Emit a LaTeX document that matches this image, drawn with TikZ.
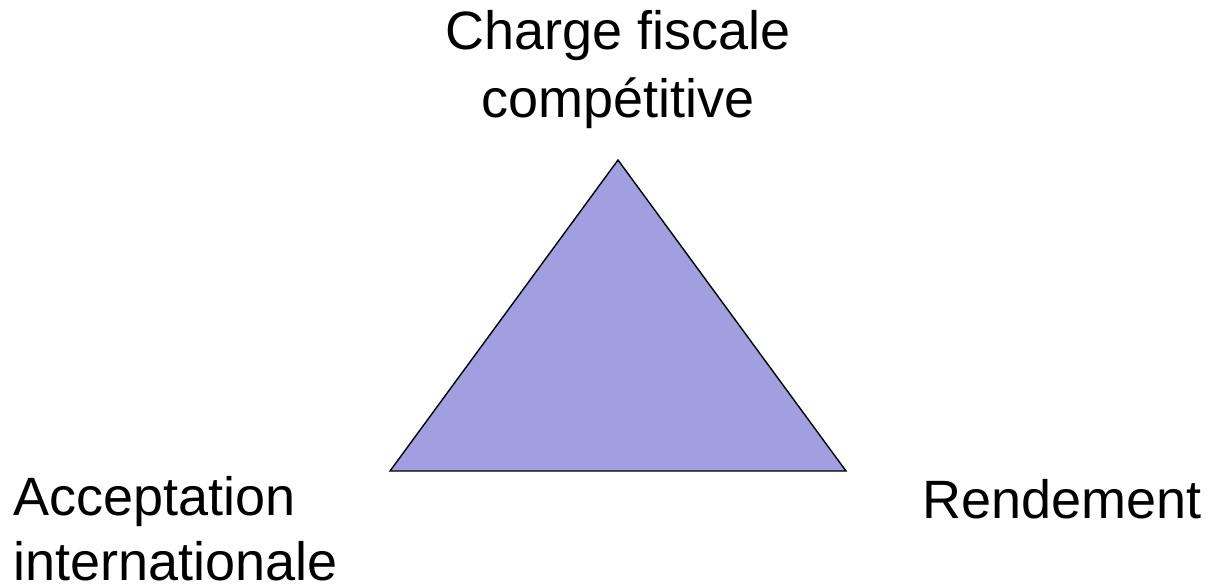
\documentclass[tikz,border=0pt]{standalone}
\usepackage{fontspec}
\setmainfont{Liberation Sans}
\definecolor{trifill}{RGB}{160,160,224}
\begin{document}
\begin{tikzpicture}[x=1pt,y=-1pt,
  lbl/.style={inner sep=0pt,font=\fontsize{54}{66}\selectfont}]
\useasboundingbox (0,0) rectangle (1215,587);
\coordinate (apex) at (618,160);
\coordinate (bl) at (390,471);
\coordinate (br) at (846,471);
\filldraw[fill=trifill,draw=black,line width=1.4pt,line join=miter] (apex) -- (bl) -- (br) -- cycle;
\node[lbl,font=\fontsize{54}{68}\selectfont,anchor=north,align=center] (top) at (618,10) {Charge fiscale\\compétitive};
\node[lbl,font=\fontsize{54}{65}\selectfont,anchor=north west,align=left] (left) at (13,476) {Acceptation\\internationale};
\node[lbl,anchor=north west,align=left] (right) at (922,479) {Rendement};
\end{tikzpicture}
\end{document}
